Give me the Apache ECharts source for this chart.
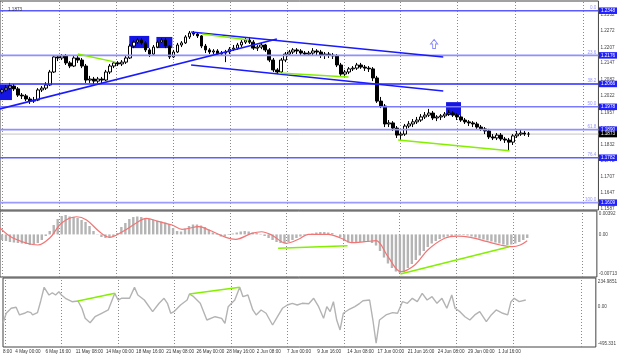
<!DOCTYPE html>
<html><head><meta charset="utf-8">
<script src="https://cdn.jsdelivr.net/npm/echarts@6/dist/echarts.min.js"></script>
<style>html,body{margin:0;padding:0;background:#fff}#c{width:620px;height:357px}</style>
</head><body><div id="c"></div>
<script>
// ---------------- DATA ----------------
// H4 price candles, each [open, close, low, high]
const priceOHLC = [
[1.2035,1.2043,1.2027,1.2050],[1.2043,1.2050,1.2035,1.2062],[1.2050,1.2058,1.2043,1.2070],[1.2058,1.2047,1.2039,1.2066],
[1.2047,1.2023,1.2016,1.2054],[1.2023,1.2020,1.2008,1.2031],[1.2020,1.2008,1.2000,1.2027],[1.2008,1.2000,1.1989,1.2016],
[1.2000,1.2004,1.1993,1.2016],[1.2004,1.2043,1.2000,1.2050],[1.2043,1.2050,1.2035,1.2058],[1.2050,1.2062,1.2043,1.2073],
[1.2062,1.2112,1.2058,1.2120],[1.2112,1.2170,1.2108,1.2177],[1.2170,1.2166,1.2154,1.2177],[1.2166,1.2174,1.2158,1.2181],
[1.2174,1.2147,1.2139,1.2181],[1.2147,1.2135,1.2127,1.2154],[1.2135,1.2166,1.2131,1.2177],[1.2166,1.2158,1.2147,1.2174],
[1.2158,1.2135,1.2127,1.2166],[1.2135,1.2081,1.2070,1.2143],[1.2081,1.2085,1.2070,1.2097],[1.2085,1.2077,1.2066,1.2093],
[1.2077,1.2085,1.2070,1.2093],[1.2085,1.2081,1.2070,1.2093],[1.2081,1.2112,1.2077,1.2120],[1.2112,1.2135,1.2104,1.2143],
[1.2135,1.2147,1.2127,1.2154],[1.2147,1.2143,1.2135,1.2154],[1.2143,1.2150,1.2135,1.2158],[1.2150,1.2166,1.2143,1.2174],
[1.2166,1.2212,1.2162,1.2220],[1.2212,1.2227,1.2204,1.2235],[1.2227,1.2235,1.2220,1.2243],[1.2235,1.2224,1.2216,1.2243],
[1.2224,1.2197,1.2189,1.2231],[1.2197,1.2181,1.2170,1.2204],[1.2181,1.2208,1.2177,1.2216],[1.2208,1.2227,1.2204,1.2235],
[1.2227,1.2235,1.2224,1.2243],[1.2235,1.2212,1.2204,1.2243],[1.2212,1.2170,1.2162,1.2216],[1.2170,1.2189,1.2166,1.2197],
[1.2189,1.2216,1.2185,1.2224],[1.2216,1.2224,1.2208,1.2231],[1.2224,1.2247,1.2220,1.2254],[1.2247,1.2262,1.2239,1.2270],
[1.2262,1.2258,1.2251,1.2270],[1.2258,1.2251,1.2243,1.2266],[1.2251,1.2212,1.2204,1.2254],[1.2212,1.2197,1.2185,1.2220],
[1.2197,1.2189,1.2181,1.2204],[1.2189,1.2193,1.2181,1.2200],[1.2193,1.2181,1.2174,1.2200],[1.2181,1.2185,1.2174,1.2193],
[1.2185,1.2189,1.2150,1.2197],[1.2189,1.2200,1.2181,1.2208],[1.2200,1.2204,1.2193,1.2216],[1.2204,1.2216,1.2197,1.2224],
[1.2216,1.2227,1.2208,1.2235],[1.2227,1.2235,1.2220,1.2243],[1.2235,1.2227,1.2220,1.2247],[1.2227,1.2204,1.2197,1.2235],
[1.2204,1.2208,1.2193,1.2216],[1.2208,1.2216,1.2200,1.2224],[1.2216,1.2197,1.2189,1.2220],[1.2197,1.2158,1.2150,1.2204],
[1.2158,1.2120,1.2112,1.2166],[1.2120,1.2112,1.2104,1.2127],[1.2112,1.2158,1.2108,1.2166],[1.2158,1.2181,1.2150,1.2189],
[1.2181,1.2189,1.2174,1.2197],[1.2189,1.2197,1.2181,1.2204],[1.2197,1.2193,1.2181,1.2204],[1.2193,1.2185,1.2174,1.2200],
[1.2185,1.2181,1.2174,1.2193],[1.2181,1.2185,1.2174,1.2193],[1.2185,1.2193,1.2177,1.2204],[1.2193,1.2189,1.2174,1.2200],
[1.2189,1.2177,1.2166,1.2197],[1.2177,1.2181,1.2162,1.2189],[1.2181,1.2177,1.2166,1.2189],[1.2177,1.2174,1.2162,1.2185],
[1.2174,1.2139,1.2131,1.2181],[1.2139,1.2104,1.2097,1.2147],[1.2104,1.2112,1.2097,1.2120],[1.2112,1.2124,1.2104,1.2131],
[1.2124,1.2127,1.2116,1.2135],[1.2127,1.2139,1.2120,1.2147],[1.2139,1.2131,1.2124,1.2147],[1.2131,1.2127,1.2116,1.2139],
[1.2127,1.2124,1.2112,1.2135],[1.2124,1.2089,1.2077,1.2131],[1.2089,1.2000,1.1993,1.2097],[1.2000,1.1981,1.1973,1.2016],
[1.1981,1.1912,1.1900,1.1989],[1.1912,1.1916,1.1900,1.1927],[1.1916,1.1896,1.1885,1.1923],[1.1896,1.1869,1.1858,1.1904],
[1.1869,1.1873,1.1850,1.1881],[1.1873,1.1904,1.1866,1.1912],[1.1904,1.1912,1.1896,1.1923],[1.1912,1.1920,1.1900,1.1931],
[1.1920,1.1927,1.1912,1.1939],[1.1927,1.1939,1.1920,1.1950],[1.1939,1.1946,1.1931,1.1958],[1.1946,1.1954,1.1939,1.1970],
[1.1954,1.1935,1.1927,1.1962],[1.1935,1.1939,1.1923,1.1946],[1.1939,1.1943,1.1927,1.1950],[1.1943,1.1950,1.1935,1.1958],
[1.1950,1.1954,1.1943,1.1966],[1.1954,1.1946,1.1939,1.1962],[1.1946,1.1939,1.1927,1.1954],[1.1939,1.1927,1.1920,1.1946],
[1.1927,1.1920,1.1912,1.1935],[1.1920,1.1916,1.1904,1.1927],[1.1916,1.1912,1.1900,1.1923],[1.1912,1.1900,1.1893,1.1920],
[1.1900,1.1893,1.1885,1.1908],[1.1893,1.1885,1.1873,1.1900],[1.1885,1.1862,1.1854,1.1893],[1.1862,1.1858,1.1850,1.1873],
[1.1858,1.1869,1.1850,1.1877],[1.1869,1.1854,1.1846,1.1877],[1.1854,1.1850,1.1839,1.1862],[1.1850,1.1842,1.1808,1.1858],
[1.1842,1.1866,1.1831,1.1873],[1.1866,1.1873,1.1858,1.1885],[1.1873,1.1877,1.1866,1.1889],[1.1877,1.1873,1.1866,1.1885],
[1.1873,1.1873,1.1862,1.1881]
];
// MACD histogram, one value per candle
const macdHist = [
-0.00094,-0.00110,-0.00127,-0.00136,-0.00144,-0.00152,-0.00161,-0.00177,-0.00161,-0.00144,
-0.00094,-0.00027,0.00057,0.00157,0.00258,0.00308,0.00325,0.00300,0.00291,0.00275,
0.00241,0.00208,0.00141,0.00057,-0.00005,-0.00044,-0.00060,-0.00052,-0.00027,0.00023,
0.00124,0.00191,0.00258,0.00291,0.00300,0.00291,0.00275,0.00258,0.00241,0.00233,
0.00216,0.00199,0.00174,0.00107,0.00057,0.00049,0.00099,0.00141,0.00166,0.00166,
0.00149,0.00124,0.00082,0.00032,-0.00010,-0.00035,-0.00035,-0.00010,0.00015,0.00032,
0.00049,0.00057,0.00049,0.00032,0.00023,0.00007,-0.00027,-0.00060,-0.00094,-0.00127,
-0.00144,-0.00152,-0.00127,-0.00094,-0.00060,-0.00035,-0.00018,-0.00002,0.00015,0.00032,
0.00040,0.00040,0.00032,0.00023,-0.00002,-0.00044,-0.00102,-0.00136,-0.00144,-0.00136,
-0.00127,-0.00127,-0.00127,-0.00144,-0.00186,-0.00278,-0.00387,-0.00487,-0.00562,-0.00621,
-0.00646,-0.00629,-0.00562,-0.00495,-0.00429,-0.00353,-0.00278,-0.00211,-0.00152,-0.00110,
-0.00077,-0.00052,-0.00035,-0.00027,-0.00018,-0.00010,-0.00010,-0.00018,-0.00035,-0.00052,
-0.00069,-0.00085,-0.00102,-0.00119,-0.00136,-0.00152,-0.00169,-0.00177,-0.00169,-0.00152,
-0.00127,-0.00094,-0.00060
];
// MACD signal line [candle index, value]
const macdSignal = [
[-0.5,0.00107],[2.75,-0.00060],[9,-0.00177],[12,-0.00060],[15,0.00191],[18.75,0.00296],[21.25,0.00241],
[24.5,0.00045],[27,-0.00049],[30.25,0.00045],[33.75,0.00191],[36.25,0.00270],[39.5,0.00213],[42.75,0.00157],
[45.25,0.00085],[49.5,0.00129],[52,0.00074],[56.25,-0.00049],[58.75,-0.00082],[62.75,0.00018],[65.25,0.00045],
[67.75,-0.00010],[71.5,-0.00149],[74.5,-0.00082],[77,0.00002],[82,0.00002],[85.25,-0.00065],[87.75,-0.00139],
[91.25,-0.00122],[94,-0.00105],[97,-0.00373],[100.25,-0.00624],[103.75,-0.00512],[107,-0.00261],[111.25,-0.00065],
[114.5,-0.00027],[117.75,-0.00049],[122,-0.00122],[125.25,-0.00177],[128.25,-0.00206],[130.25,-0.00177],[132,-0.00105]
];
// CCI line [candle index, value]
const cciLine = [
[-0.5,-235],[0.32,-104],[1.57,-39],[2.82,-26],[3.67,-126],[4.92,-104],[5.74,-83],[6.56,-96],[6.99,-126],[8.23,-96],
[9.06,60],[9.91,234.99],[11.15,134],[11.98,164],[12.8,134],[13.65,177],[14.3,134],[15.3,91],[16.97,47],[18.47,56],
[19.46,-39],[20.29,-170],[21.54,-227],[22.78,-149],[24.46,-104],[26.13,-61],[27.78,156],[28.62,69],[29.45,91],[31.52,91],
[32.77,234],[33.62,134],[35.26,69],[37.36,-83],[39.0,26],[40.25,91],[41.1,26],[41.93,-104],[42.75,-83],[44.42,4],
[46.09,69],[46.67,147],[47.74,112],[49.41,26],[51.08,-192],[53.16,-149],[54.83,-170],[55.65,-235],[56.48,-18],[57.32,26],
[58.15,69],[59.4,234],[60.22,112],[61.47,134],[62.71,-61],[63.56,-126],[64.81,-61],[66.06,-104],[67.71,-257],[68.95,-149],
[70.2,-39],[71.45,4],[72.7,26],[73.94,4],[75.19,26],[76.86,20],[78.11,91],[79.36,-18],[80.61,-170],[81.43,-18],
[82.28,-83],[83.1,47],[83.93,-192],[84.78,-322],[85.6,-104],[86.85,-61],[88.52,-18],[89.77,26],[90.59,60],[92.26,69],
[93.09,-192],[93.91,-495.331],[94.76,-192],[96.4,-126],[98.08,-96],[99.33,-104],[100.57,47],[101.82,26],[103.07,91],[104.32,47],
[105.57,156],[106.81,69],[108.06,112],[109.31,26],[110.56,91],[111.8,-39],[113.05,134],[113.88,-39],[115.12,-83],[116.37,-149],
[117.62,-192],[118.87,-126],[120.12,-83],[121.79,-214],[123.04,-126],[124.28,-61],[125.95,-104],[127.2,-126],[128.03,47],[128.85,91],
[130.1,47],[131.77,69]
];
// Fibonacci levels
const fibNames  = ['0.0','23.6','38.2','50.0','61.8','76.4','100.0'];
const fibLevels = [1.2348,1.2176,1.2066,1.1978,1.1890,1.1782,1.1609];
const bidPrice = 1.1873;
// Blue trend lines [[idx, price],[idx, price]]
const blueLines = [
 [[-0.5,1.1970],[68.9,1.2239]],
 [[47.4,1.2266],[110.6,1.2170]],
 [[47.4,1.2139],[110.6,1.2039]]
];
// Green divergence lines
const greenPriceLines = [
 [[19.0,1.2181],[28.45,1.2150]],
 [[50.2,1.2258],[61.9,1.2235]],
 [[69.4,1.2108],[86.85,1.2093]],
 [[99.3,1.1850],[127.2,1.1809]]
];
const greenMacdLines = [
 [[69.4,-0.00233],[86.85,-0.00189]],
 [[100.1,-0.00663],[127.5,-0.00206]]
];
const greenCciLines = [
 [[18.47,56],[27.78,156]],
 [[46.67,147],[59.4,235]]
];
// Blue signal boxes [idxFrom, priceTop, idxTo, priceBottom]
const signalBoxes = [
 [-0.5,1.2062,2.5,1.2004],
 [31.9,1.2251,36.9,1.2204],
 [38.7,1.2247,42.7,1.2204],
 [111.3,1.1996,115.05,1.1946]
];
const arrowPoint = [[108.3,1.2220]];
// Axis ticks / labels
const priceTicks = [1.2332,1.2272,1.2207,1.2147,1.2082,1.2022,1.1957,1.1892,1.1832,1.1772,1.1707,1.1647,1.1587];
const macdTicks = [0.00392,0,-0.00713];
const macdTickLabels = ['0.00392','0.00','-0.00713'];
const cciTicks = [234.9851,0,-495.331];
const cciTickLabels = ['234.9851','0.00','-495.331'];
const timeTickIdx = [-0.5,2.62,10.26,17.89,25.53,33.17,40.80,48.44,56.08,63.71,71.35,78.99,86.62,94.26,101.90,109.53,117.17,124.81];
const timeLabels = ['8:00','4 May 00:00','6 May 16:00','11 May 08:00','14 May 00:00','18 May 16:00','21 May 08:00','26 May 00:00','28 May 16:00','2 Jun 08:00','7 Jun 00:00','9 Jun 16:00','14 Jun 08:00','17 Jun 00:00','21 Jun 16:00','24 Jun 08:00','29 Jun 00:00','1 Jul 16:00'];
const weekGridIdx = [0.17,14.3,28.6,42.9,57.3,71.4,85.8,99.9,114.1,128.6,145.75];
const topLeftText = '1.1873';

// ---------------- STYLE / LAYOUT ----------------
const SLOTS = 150;
const X0 = -0.5, X1 = SLOTS - 0.5;
const slotCats = Array.from({length: SLOTS}, (_, i) => String(i));
const FONT = 'Liberation Sans';
const FS = 4.6;
const fibColors = ['#5a5aff','#9090ff','#2a2aff','#7a7aff','#9090ff','#6060ff','#9a9aff'];
const priceRange = [1.15807, 1.23854];
const macdRange = [-0.00713, 0.00392];
const cciRange = [-544, 356];

const chart = echarts.init(document.getElementById('c'), null, {renderer: 'canvas'});

function gridLinesMark() {
  return {silent: true, z: 0, symbol: ['none','none'], label: {show: false},
    lineStyle: {color: '#8a8a8a', type: [1, 2], width: 1},
    data: weekGridIdx.map(v => ({xAxis: v}))};
}
function valX(grid, show) {
  return {type: 'value', gridIndex: grid, position: 'bottom', min: X0, max: X1, show: !!show,
    splitLine: {show: false}, axisLine: {show: false, onZero: false}, axisTick: {show: false}};
}
function catX(grid) {
  return {type: 'category', gridIndex: grid, position: 'bottom', data: slotCats, boundaryGap: true, show: false,
    axisLine: {onZero: false}};
}
function segSeries(list, xi, yi, color, width, z) {
  return list.map(seg => ({type: 'line', xAxisIndex: xi, yAxisIndex: yi, data: seg, symbol: 'none',
    z: z || 6, silent: true, lineStyle: {color: color, width: width}}));
}
// label with vertical shift via padding (t>0 moves down, t<0 moves up)
function shiftRich(shift) {
  return shift >= 0 ? {padding: [2 * shift, 0, 0, 0]} : {padding: [0, 0, -2 * shift, 0]};
}

const xAxes = [catX(0), valX(0), catX(1), valX(1), catX(2), valX(2, true)];
xAxes[5].axisLabel = {show: true, customValues: timeTickIdx, align: 'left', margin: 2.5,
  fontFamily: FONT, fontSize: FS, color: '#333',
  formatter: v => { const k = timeTickIdx.indexOf(v); return k >= 0 ? timeLabels[k] : ''; }};

const yAxes = [
  {type: 'value', gridIndex: 0, position: 'right', min: priceRange[0], max: priceRange[1],
   splitLine: {show: false}, axisLine: {show: false}, axisTick: {show: false},
   axisLabel: {customValues: priceTicks, margin: 2, fontFamily: FONT, fontSize: FS, color: '#444',
     formatter: v => v.toFixed(4)}},
  {type: 'value', gridIndex: 0, position: 'right', min: priceRange[0], max: priceRange[1],
   splitLine: {show: false}, axisLine: {show: false}, axisTick: {show: false},
   axisLabel: {customValues: fibLevels, margin: 0.5, fontFamily: FONT, fontSize: FS, color: '#fff',
     backgroundColor: '#1f1fff', padding: [1, 2, 0.5, 2], formatter: v => v.toFixed(4)}},
  {type: 'value', gridIndex: 0, position: 'right', min: priceRange[0], max: priceRange[1],
   splitLine: {show: false}, axisLine: {show: false}, axisTick: {show: false},
   axisLabel: {customValues: [bidPrice], margin: 0.5, fontFamily: FONT, fontSize: FS, color: '#fff',
     backgroundColor: '#000', padding: [1, 2, 0.5, 2], formatter: v => v.toFixed(4)}},
  {type: 'value', gridIndex: 1, position: 'right', min: macdRange[0], max: macdRange[1],
   splitLine: {show: false}, axisLine: {show: false}, axisTick: {show: false},
   axisLabel: {customValues: macdTicks, margin: 2, fontFamily: FONT, fontSize: FS, color: '#444',
     rich: {dn: shiftRich(3), up: shiftRich(-3)},
     formatter: v => { const k = macdTicks.indexOf(v); if (k < 0) return '';
       return k === 0 ? '{dn|' + macdTickLabels[k] + '}' : (k === 2 ? '{up|' + macdTickLabels[k] + '}' : macdTickLabels[k]); }}},
  {type: 'value', gridIndex: 2, position: 'right', min: cciRange[0], max: cciRange[1],
   splitLine: {show: false}, axisLine: {show: false}, axisTick: {show: false},
   axisLabel: {customValues: cciTicks, margin: 2, fontFamily: FONT, fontSize: FS, color: '#444',
     rich: {up6: shiftRich(-6), dn1: shiftRich(1.5)},
     formatter: v => { const k = cciTicks.indexOf(v); if (k < 0) return '';
       return k === 0 ? '{up6|' + cciTickLabels[k] + '}' : (k === 1 ? '{dn1|' + cciTickLabels[k] + '}' : cciTickLabels[k]); }}}
];

// horizontal fib lines as 2-point line series
const fibSeries = fibLevels.map((lv, k) => ({
  type: 'line', xAxisIndex: 1, yAxisIndex: 0, symbol: 'none', silent: true, z: 4,
  data: [[X0, lv], [X1, lv]], lineStyle: {color: fibColors[k], width: 1.6}
}));
const fibNameSeries = {
  type: 'scatter', xAxisIndex: 1, yAxisIndex: 0, silent: true, z: 5, symbol: 'rect', symbolSize: 0.1,
  itemStyle: {color: 'rgba(0,0,0,0)'},
  data: fibLevels.map(lv => [X1, lv]),
  label: {show: true, position: 'left', distance: 2, offset: [0, -3], fontFamily: FONT, fontSize: FS, color: '#7a7aff',
    formatter: p => fibNames[p.dataIndex]}
};
const bidSeries = {type: 'line', xAxisIndex: 1, yAxisIndex: 0, symbol: 'none', silent: true, z: 2,
  data: [[X0, bidPrice], [X1, bidPrice]], lineStyle: {color: '#c4c4c4', width: 1}};

const series = [
  // background: week grid + signal boxes (main)
  {type: 'line', xAxisIndex: 1, yAxisIndex: 0, data: [], silent: true, z: 1,
   markLine: gridLinesMark(),
   markArea: {silent: true, z: 1, itemStyle: {color: '#1616e4'},
     data: signalBoxes.map(b => [{xAxis: b[0], yAxis: b[1]}, {xAxis: b[2], yAxis: b[3]}])}},
  {type: 'line', xAxisIndex: 3, yAxisIndex: 3, data: [], silent: true, z: 1, markLine: gridLinesMark()},
  {type: 'line', xAxisIndex: 5, yAxisIndex: 4, data: [], silent: true, z: 1, markLine: gridLinesMark()},
  bidSeries,
  // candles
  {type: 'candlestick', xAxisIndex: 0, yAxisIndex: 0, data: priceOHLC, z: 3, barWidth: 3.2, silent: true,
   itemStyle: {color: '#ffffff', color0: '#000000', borderColor: '#000000', borderColor0: '#000000', borderWidth: 1}},
  // arrow
  {type: 'scatter', xAxisIndex: 1, yAxisIndex: 0, data: arrowPoint, z: 6, silent: true,
   symbol: 'path://M5,0 L10,5 L7,5 L7,10 L3,10 L3,5 L0,5 Z', symbolSize: [7, 9],
   itemStyle: {color: '#ffffff', borderColor: '#6a6aff', borderWidth: 1}},
  // MACD
  {type: 'bar', xAxisIndex: 2, yAxisIndex: 3, data: macdHist, barWidth: 2.4, silent: true, z: 2,
   itemStyle: {color: '#b4b4b4'}},
  {type: 'line', xAxisIndex: 3, yAxisIndex: 3, data: macdSignal, smooth: 0.35, symbol: 'none', silent: true, z: 4,
   lineStyle: {color: '#f27474', width: 1.2}},
  // CCI
  {type: 'line', xAxisIndex: 5, yAxisIndex: 4, data: cciLine, symbol: 'none', silent: true, z: 3,
   lineStyle: {color: '#b3b3b3', width: 1.4}},
  fibNameSeries
]
.concat(fibSeries)
.concat(segSeries(blueLines, 1, 0, '#1a1aff', 1.6))
.concat(segSeries(greenPriceLines, 1, 0, '#84f000', 1.5))
.concat(segSeries(greenMacdLines, 3, 3, '#84f000', 1.5))
.concat(segSeries(greenCciLines, 5, 4, '#84f000', 1.5));

chart.setOption({
  animation: false,
  backgroundColor: '#ffffff',
  title: {text: topLeftText, left: 3, top: 2, textStyle: {fontFamily: FONT, fontSize: FS, fontWeight: 'normal', color: '#333'}},
  grid: [
    {left: -1, right: 19, top: 1, height: 209, show: true, borderColor: '#444', borderWidth: 1, backgroundColor: '#fff'},
    {left: -1, right: 19, top: 211, height: 66, show: true, borderColor: '#444', borderWidth: 1, backgroundColor: '#fff'},
    {left: -1, right: 19, top: 278, height: 69, show: true, borderColor: '#444', borderWidth: 1, backgroundColor: '#fff'}
  ],
  xAxis: xAxes,
  yAxis: yAxes,
  series: series
});
</script></body></html>
